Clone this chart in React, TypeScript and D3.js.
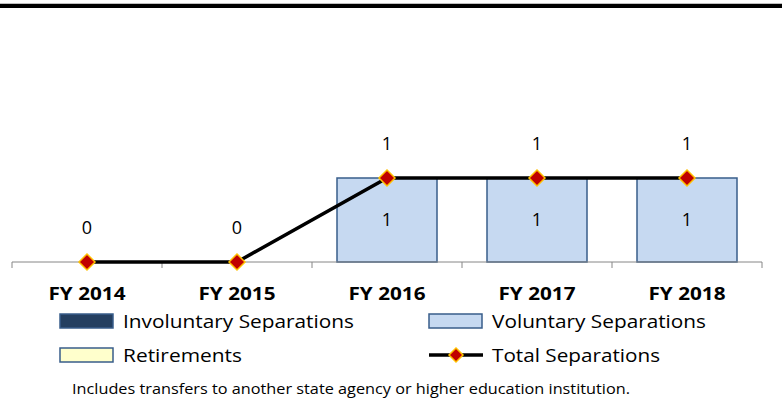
import React, { useEffect, useRef } from "react";
import * as d3 from "d3";

// Chart data
const years = ["FY 2014", "FY 2015", "FY 2016", "FY 2017", "FY 2018"];
const involuntary = [0, 0, 0, 0, 0];
const voluntary = [0, 0, 1, 1, 1];
const retirements = [0, 0, 0, 0, 0];
const totals = [0, 0, 1, 1, 1];

const seriesNames = ["Involuntary Separations", "Voluntary Separations", "Retirements"];
const seriesColors = ["#243F60", "#C6D9F1", "#FFFFCC"];
const footnote = "Includes transfers to another state agency or higher education institution.";

const W = 782;
const H = 403;
const font = "'Open Sans', sans-serif";

const App = () => {
  const ref = useRef<SVGSVGElement>(null);

  useEffect(() => {
    const svg = d3.select(ref.current);
    svg.selectAll("*").remove();

    // Top rule
    svg.append("rect").attr("x", 0).attr("y", 3).attr("width", W).attr("height", 1).attr("fill", "#bfbfbf");
    svg.append("rect").attr("x", 0).attr("y", 4).attr("width", W).attr("height", 4).attr("fill", "#000");

    const x = d3.scaleBand().domain(years).range([12, 762]).paddingInner(1 / 3).paddingOuter(1 / 6);
    const y = d3.scaleLinear().domain([0, 1]).range([262, 178]);

    const table = years.map((yr, i) => ({
      year: yr,
      inv: involuntary[i],
      vol: voluntary[i],
      ret: retirements[i],
    }));
    const stacked = d3.stack<any>().keys(["inv", "vol", "ret"])(table);

    // Bars
    stacked.forEach((layer, si) => {
      svg
        .append("g")
        .selectAll("rect")
        .data(layer.filter((d) => d[1] - d[0] > 0))
        .join("rect")
        .attr("x", (d) => x(d.data.year)!)
        .attr("y", (d) => y(d[1]))
        .attr("width", x.bandwidth())
        .attr("height", (d) => y(d[0]) - y(d[1]))
        .attr("fill", seriesColors[si])
        .attr("stroke", "#385D8A")
        .attr("stroke-width", 1.5);

      // value labels inside bars
      svg
        .append("g")
        .selectAll("text")
        .data(layer.filter((d) => d[1] - d[0] > 0))
        .join("text")
        .attr("x", (d) => x(d.data.year)! + x.bandwidth() / 2)
        .attr("y", (d) => (y(d[0]) + y(d[1])) / 2 + 6)
        .attr("text-anchor", "middle")
        .attr("font-family", font)
        .attr("font-size", 18)
        .attr("fill", "#000")
        .text((d) => d[1] - d[0]);
    });

    // Axis line and ticks
    const step = x.step();
    svg.append("line").attr("x1", 12).attr("x2", 762).attr("y1", 262).attr("y2", 262)
      .attr("stroke", "#868686").attr("stroke-width", 1);
    d3.range(years.length + 1).forEach((i) => {
      const tx = 12 + i * step;
      svg.append("line").attr("x1", tx).attr("x2", tx).attr("y1", 262).attr("y2", 268)
        .attr("stroke", "#868686");
    });

    svg
      .append("g")
      .selectAll("text")
      .data(years)
      .join("text")
      .attr("x", (d) => x(d)! + x.bandwidth() / 2)
      .attr("y", 300)
      .attr("text-anchor", "middle")
      .attr("font-family", font)
      .attr("font-weight", "bold")
      .attr("font-size", 18)
      .attr("textLength", 77)
      .attr("lengthAdjust", "spacingAndGlyphs")
      .text((d) => d);

    // Total line
    const cx = (i: number) => x(years[i])! + x.bandwidth() / 2;
    const line = d3.line<number>().x((_, i) => cx(i)).y((d) => y(d));
    svg.append("path").datum(totals).attr("d", line).attr("fill", "none")
      .attr("stroke", "#000").attr("stroke-width", 3.5);

    const diamond = (g: any, px: number, py: number, r: number) =>
      g.append("path")
        .attr("d", `M${px},${py - r}L${px + r},${py}L${px},${py + r}L${px - r},${py}Z`)
        .attr("fill", "#C00000")
        .attr("stroke", "#FFC000")
        .attr("stroke-width", 1.5);

    totals.forEach((v, i) => {
      diamond(svg, cx(i), y(v), 8);
      svg.append("text")
        .attr("x", cx(i))
        .attr("y", y(v) - 28)
        .attr("text-anchor", "middle")
        .attr("font-family", font)
        .attr("font-size", 18)
        .text(v);
    });

    // Legend
    const legendItems = [
      { name: seriesNames[0], color: seriesColors[0], x: 60, y: 321, kind: "box", len: 231 },
      { name: seriesNames[1], color: seriesColors[1], x: 429, y: 321, kind: "box", len: 214 },
      { name: seriesNames[2], color: seriesColors[2], x: 60, y: 355, kind: "box", len: 119 },
      { name: "Total Separations", color: "#000", x: 429, y: 355, kind: "line", len: 168 },
    ];
    legendItems.forEach((it) => {
      if (it.kind === "box") {
        svg.append("rect").attr("x", it.x).attr("y", it.y - 7).attr("width", 53).attr("height", 14)
          .attr("fill", it.color).attr("stroke", "#385D8A").attr("stroke-width", 1.5);
      } else {
        svg.append("line").attr("x1", it.x).attr("x2", it.x + 54).attr("y1", it.y).attr("y2", it.y)
          .attr("stroke", "#000").attr("stroke-width", 3.5);
        diamond(svg, it.x + 27, it.y, 7);
      }
      svg.append("text")
        .attr("x", it.x + 63)
        .attr("y", it.y + 7)
        .attr("font-family", font)
        .attr("font-size", 18)
        .attr("textLength", it.len)
        .attr("lengthAdjust", "spacingAndGlyphs")
        .attr("fill", "#000")
        .text(it.name);
    });

    svg.append("text").attr("x", 72).attr("y", 394)
      .attr("font-family", font).attr("font-size", 15)
      .attr("textLength", 558).attr("lengthAdjust", "spacingAndGlyphs")
      .text(footnote);
  }, []);

  return (
    <svg ref={ref} width={W} height={H} style={{ position: "absolute", left: 0, top: 0, background: "#fff" }} />
  );
};

export default App;
